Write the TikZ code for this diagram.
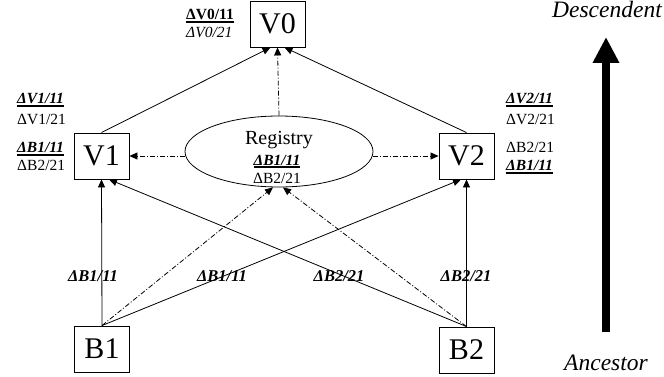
\documentclass[tikz,border=0pt]{standalone}
\usepackage{fontspec}
\setmainfont{Liberation Serif}
\usetikzlibrary{arrows.meta,calc,shapes.geometric}

% heavy underline for the current version labels
\newsavebox\ulbox
\newcommand{\ulbar}[1]{\sbox\ulbox{#1}\rlap{\rule[-2.6pt]{\wd\ulbox}{1.2pt}}\usebox\ulbox}

\begin{document}
\begin{tikzpicture}[x=1pt,y=-1pt,
  vbox/.style={draw, line width=0.9pt, minimum width=55pt, minimum height=46pt,
    inner sep=0pt, font=\fontsize{30}{30}\selectfont},
  regbox/.style={draw, ellipse, line width=0.8pt, minimum width=188pt,
    minimum height=71pt, inner sep=0pt},
  lbl/.style={inner sep=0pt, anchor=base west, font=\fontsize{15.5}{16}\selectfont},
  clbl/.style={inner sep=0pt, anchor=base, font=\fontsize{15.5}{16}\selectfont},
  elbl/.style={inner sep=0pt, anchor=base, font=\fontsize{16.5}{17}\selectfont\bfseries\itshape},
  axislbl/.style={inner sep=0pt, anchor=base, font=\fontsize{23.5}{24}\selectfont\itshape},
  link/.style={line width=0.8pt, -{Triangle[length=8pt,width=7pt]}},
  ddlink/.style={link, dash pattern=on 5pt off 2pt on 1pt off 2pt},
  bigarrow/.style={line width=8pt, -{Triangle[length=26pt,width=25pt]}}]

\useasboundingbox (0,0) rectangle (664,377);

% version nodes
\node[vbox] (v0) at (277.5,24) {V0};
\node[vbox] (v1) at (101.5,156) {V1};
\node[vbox] (v2) at (466.5,156) {V2};
\node[vbox] (b1) at (102,349) {B1};
\node[vbox] (b2) at (466.5,350) {B2};
\node[regbox] (reg) at (279,151.5) {};

% registry contents
\node[clbl, font=\fontsize{20}{20}\selectfont] (regname) at (279,145) {Registry};
\node[clbl] (regb1) at (277,165) {\ulbar{\bfseries\itshape ΔB1/11}};
\node[clbl] (regb2) at (277,183) {ΔB2/21};

% labels beside the versions
\node[lbl] (lv0a) at (186,20) {\ulbar{\bfseries ΔV0/11}};
\node[lbl] (lv0b) at (186,38) {\itshape ΔV0/21};

\node[lbl] (lv1a) at (17,104) {\ulbar{\bfseries\itshape ΔV1/11}};
\node[lbl] (lv1b) at (17,125) {ΔV1/21};
\node[lbl] (lv1c) at (17,153) {\ulbar{\bfseries\itshape ΔB1/11}};
\node[lbl] (lv1d) at (17,171) {ΔB2/21};

\node[lbl] (lv2a) at (506,104) {\ulbar{\bfseries\itshape ΔV2/11}};
\node[lbl] (lv2b) at (506,125) {ΔV2/21};
\node[lbl] (lv2c) at (506,153) {ΔB2/21};
\node[lbl] (lv2d) at (506,171) {\ulbar{\bfseries\itshape ΔB1/11}};

% edge labels
\node[elbl] (e1) at (93,281) {ΔB1/11};
\node[elbl] (e2) at (222,281) {ΔB1/11};
\node[elbl] (e3) at (339,281) {ΔB2/21};
\node[elbl] (e4) at (466,281) {ΔB2/21};

% derivations
\draw[link] (v1.north) -- ($(v0.south)+(-7,0)$);
\draw[link] (v2.north) -- ($(v0.south)+(7,0)$);
\draw[ddlink] (reg.north) -- (v0.south);
\draw[ddlink] (reg.west |- v1.east) -- (v1.east);
\draw[ddlink] (reg.east |- v2.west) -- (v2.west);

\draw[link] (b1.north) -- (v1.south);
\draw[link] (b1.north) -- ($(v2.south)+(-5.5,0)$);
\draw[link] (b2.north) -- (v2.south);
\draw[link] (b2.north) -- ($(v1.south)+(7.5,0)$);
\draw[ddlink] (b1.north) -- ($(reg.south)+(-6,0)$);
\draw[ddlink] (b2.north) -- ($(reg.south)+(4,0)$);

% ancestry axis
\node[axislbl] (desc) at (607,18) {Descendent};
\node[axislbl] (anc) at (606,370) {Ancestor};
\coordinate (axbot) at (606,332);
\coordinate (axtop) at (606,37);
\draw[bigarrow] (axbot) -- (axtop);

\end{tikzpicture}
\end{document}
